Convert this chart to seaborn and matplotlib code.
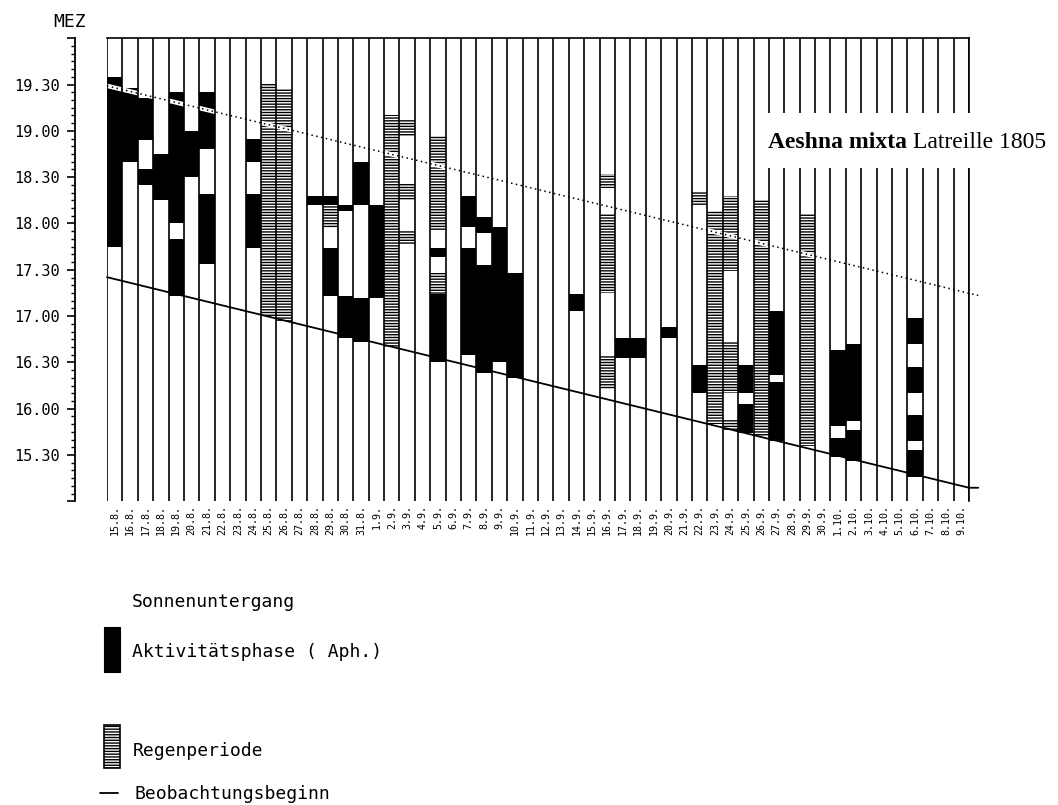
import numpy as np
import matplotlib
matplotlib.use("Agg")
import matplotlib.pyplot as plt
import seaborn as sns
from matplotlib.patches import Rectangle
from matplotlib.lines import Line2D
from matplotlib.text import Annotation
from matplotlib.ticker import FixedLocator, MultipleLocator

# Observation days (one column each)
dates = (
    [f"{d}.8." for d in range(15, 32)]
    + [f"{d}.9." for d in range(1, 31)]
    + [f"{d}.10." for d in range(1, 10)]
)

# Activity phases (Aph.): day, start, end (MEZ)
aph_day = ["15.8.", "16.8.", "17.8.", "17.8.", "18.8.", "19.8.", "19.8.", "20.8.",
           "21.8.", "21.8.", "24.8.", "24.8.", "28.8.", "29.8.", "29.8.", "30.8.",
           "30.8.", "31.8.", "31.8.", "1.9.", "5.9.", "5.9.", "7.9.", "7.9.",
           "8.9.", "8.9.", "9.9.", "10.9.", "14.9.", "17.9.", "18.9.", "20.9.",
           "22.9.", "25.9.", "25.9.", "27.9.", "27.9.", "1.10.", "1.10.", "2.10.",
           "2.10.", "6.10.", "6.10.", "6.10.", "6.10."]
aph_start = ["17:45", "18:40", "18:54", "18:25", "18:15", "18:00", "17:13", "18:30",
             "18:48", "17:34", "18:40", "17:44", "18:12", "18:12", "17:13", "18:08",
             "16:46", "18:12", "16:43", "17:12", "17:38", "16:30", "17:58", "16:35",
             "17:54", "16:23", "16:30", "16:20", "17:03", "16:33", "16:33", "16:46",
             "16:10", "16:10", "15:44", "16:22", "15:39", "15:49", "15:29", "15:52",
             "15:26", "16:42", "16:10", "15:39", "15:16"]
aph_end = ["19:35", "19:28", "19:21", "18:35", "18:45", "19:25", "17:50", "19:00",
           "19:25", "18:19", "18:55", "18:19", "18:18", "18:18", "17:44", "18:12",
           "17:13", "18:40", "17:12", "18:12", "17:44", "17:14", "18:18", "17:44",
           "18:04", "17:33", "17:58", "17:28", "17:14", "16:46", "16:46", "16:53",
           "16:28", "16:28", "16:03", "17:03", "16:17", "16:38", "15:41", "16:42",
           "15:46", "16:59", "16:27", "15:56", "15:33"]

# Rain periods: day, start, end (MEZ)
rain_day = ["25.8.", "26.8.", "29.8.", "2.9.", "3.9.", "3.9.", "3.9.", "5.9.", "5.9.",
            "16.9.", "16.9.", "16.9.", "22.9.", "23.9.", "24.9.", "24.9.", "24.9.",
            "26.9.", "29.9."]
rain_start = ["17:00", "16:57", "17:57", "16:40", "18:57", "18:15", "17:47", "17:56",
              "17:14", "18:23", "17:15", "16:13", "18:12", "15:50", "17:29", "16:10",
              "15:46", "15:42", "15:36"]
rain_end = ["19:31", "19:27", "18:12", "19:10", "19:07", "18:26", "17:55", "18:57",
            "17:28", "18:32", "18:06", "16:35", "18:21", "18:08", "18:18", "16:44",
            "15:53", "18:15", "18:06"]

# Sunset and start of observation on the first and last day
line_days = ["15.8.", "9.10."]
sunset_time = ["19:28", "17:16"]
obs_start_time = ["17:24", "15:10"]

y_tick_labels = ["", "15.30", "16.00", "16.30", "17.00", "17.30",
                 "18.00", "18.30", "19.00", "19.30", ""]


def hours(s):
    h, m = s.split(":")
    return int(h) + int(m) / 60.0


sns.set_theme(style="white")
plt.rcParams["font.family"] = ["DejaVu Sans Mono", "DejaVu Sans"]
plt.rcParams.update({
    "text.color": "black", "axes.edgecolor": "black", "axes.labelcolor": "black",
    "xtick.color": "black", "ytick.color": "black",
    "hatch.linewidth": 1.0, "hatch.color": "black",
})

W, H = 1058, 805
fig = plt.figure(figsize=(W / 100, H / 100), dpi=100)
ax = fig.add_axes([107 / W, 1 - 501.3 / H, (969 - 107) / W, (501.3 - 38.3) / H])

day_index = {d: i for i, d in enumerate(dates)}


def draw_segments(days, starts, ends, **kw):
    x = np.array([day_index[d] for d in days])
    lo = np.array([hours(s) for s in starts])
    hi = np.array([hours(e) for e in ends])
    ax.bar(x, hi - lo, bottom=lo, width=1.0, linewidth=0, zorder=2, **kw)


draw_segments(aph_day, aph_start, aph_end, color="black")
draw_segments(rain_day, rain_start, rain_end, facecolor="white",
              edgecolor="black", hatch="------")

# column boundaries
ax.vlines(np.arange(len(dates) + 1) - 0.5, 15, 20, color="black", lw=1.2, zorder=3)

# straight lines through the first/last day values
i0, i1 = day_index[line_days[0]], day_index[line_days[1]]


def line_at(times, xs):
    t0, t1 = hours(times[0]), hours(times[1])
    k = (t1 - t0) / (i1 - i0)
    return t0 + k * (np.asarray(xs) - i0)


sun_x = np.array([-0.5, 56.1])
sun_y = line_at(sunset_time, sun_x)
# light halo so the dotted sunset line stays visible on dark cells
sns.lineplot(x=sun_x, y=sun_y, ax=ax, color="white", lw=3.2, zorder=2.5,
             sort=False, estimator=None, clip_on=False)
sns.lineplot(x=sun_x, y=sun_y, ax=ax, color="black", lw=1.1, zorder=4,
             linestyle=(0, (1, 2.2)), sort=False, estimator=None, clip_on=False)

obs_x = np.array([-0.5, 55.5])
obs_y = line_at(obs_start_time, obs_x)
sns.lineplot(x=np.append(obs_x, 56.1), y=np.append(obs_y, obs_y[-1]), ax=ax,
             color="black", lw=1.3, zorder=4, sort=False, estimator=None,
             clip_on=False)

ax.set_xlim(-0.5, 55.5)
ax.set_ylim(15, 20)
ax.grid(False)
ax.set_xlabel("")
ax.set_ylabel("")

ax.set_xticks(range(len(dates)))
ax.set_xticklabels(dates, rotation=90, fontsize=7.2)
ax.tick_params(axis="x", length=0, pad=3)

ax.yaxis.set_major_locator(FixedLocator(np.arange(15, 20.01, 0.5)))
ax.set_yticklabels(y_tick_labels, fontsize=13.5)
ax.yaxis.set_minor_locator(MultipleLocator(1 / 12))
ax.tick_params(axis="y", which="major", left=True, length=6, width=1.2,
               direction="out", pad=5)
ax.tick_params(axis="y", which="minor", left=True, length=3, width=1.0,
               direction="out")

ax.spines["left"].set_position(("outward", 23))
ax.spines["left"].set_linewidth(1.3)
ax.spines["top"].set_linewidth(1.2)
ax.spines["right"].set_linewidth(1.2)
ax.spines["bottom"].set_visible(False)

fig.text(53 / W, 1 - 26.7 / H, "MEZ", fontsize=13, va="baseline", ha="left")

# species label over the columns
fig.add_artist(Rectangle((761 / W, 1 - 168.3 / H), (W - 761) / W, 55 / H,
                         transform=fig.transFigure, facecolor="white",
                         edgecolor="none", zorder=10))
t1 = fig.text(768 / W, 1 - 148.3 / H, "Aeshna mixta", family="Liberation Serif",
              weight="bold", fontsize=17, va="baseline", ha="left", zorder=11)
fig.add_artist(Annotation("Latreille 1805", xy=(1, 0), xycoords=t1,
                          xytext=(4, 0), textcoords="offset points",
                          va="bottom", ha="left", family="Liberation Serif",
                          fontsize=17, zorder=11))

# key
fig.text(131.7 / W, 1 - 607 / H, "Sonnenuntergang", fontsize=13, va="baseline")
fig.add_artist(Rectangle((104 / W, 1 - 672 / H), 16 / W, 45 / H,
                         transform=fig.transFigure, facecolor="black",
                         edgecolor="black", lw=0.8))
fig.text(131.7 / W, 1 - 657 / H, "Aktivitätsphase ( Aph.)", fontsize=13,
         va="baseline")
fig.add_artist(Rectangle((104 / W, 1 - 768 / H), 16 / W, 43 / H,
                         transform=fig.transFigure, facecolor="white",
                         edgecolor="black", lw=1.2, hatch="------"))
fig.text(133 / W, 1 - 756 / H, "Regenperiode", fontsize=13, va="baseline")
fig.add_artist(Line2D([100 / W, 118 / W], [1 - 792.7 / H, 1 - 792.7 / H],
                      transform=fig.transFigure, color="black", lw=1.3))
fig.text(135 / W, 1 - 799 / H, "Beobachtungsbeginn", fontsize=13, va="baseline")

fig.savefig("out.png", dpi=100)
